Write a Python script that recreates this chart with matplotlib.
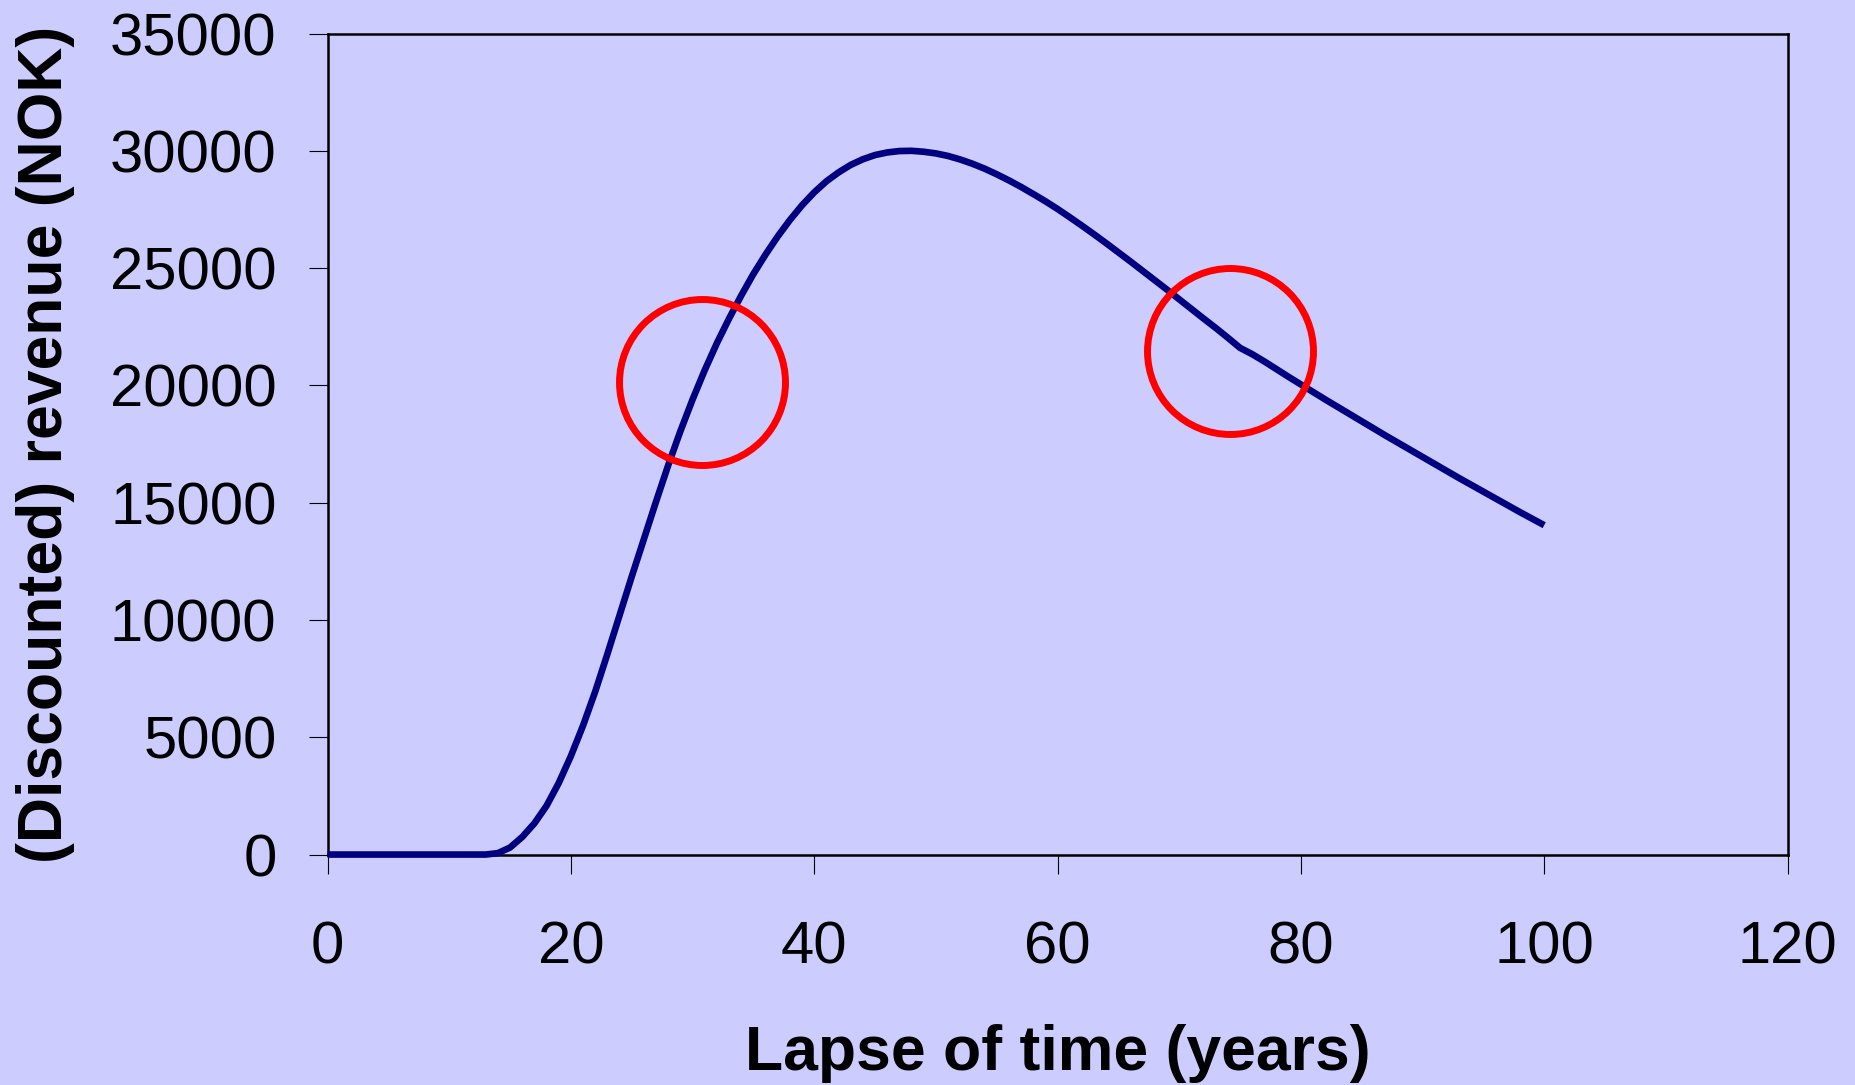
import matplotlib
matplotlib.use('Agg')
import matplotlib.pyplot as plt

# revenue curve, one value per year
years = list(range(0, 101))
revenue = [
    0, 0, 0, 0, 0, 0, 0, 0, 0, 0,
    0, 0, 0, 0, 60, 300, 750, 1330, 2080, 3050,
    4200, 5500, 6950, 8550, 10200, 11850, 13450, 15050, 16600, 18050,
    19400, 20650, 21800, 22850, 23830, 24750, 25580, 26350, 27050, 27680,
    28230, 28700, 29080, 29400, 29640, 29820, 29930, 29990, 30000, 29960,
    29890, 29780, 29630, 29450, 29240, 29000, 28740, 28460, 28160, 27850,
    27520, 27170, 26810, 26440, 26060, 25670, 25280, 24880, 24480, 24080,
    23670, 23260, 22850, 22450, 22030, 21600, 21330, 21020, 20690, 20360,
    20040, 19720, 19400, 19090, 18780, 18470, 18160, 17850, 17550, 17250,
    16950, 16650, 16350, 16050, 15760, 15470, 15180, 14890, 14600, 14320,
    14040,
]

# highlighted spots on the curve
mark_x = [30.8, 74.2]
mark_y = [20150, 21450]

x_ticks = [0, 20, 40, 60, 80, 100, 120]
y_ticks = [0, 5000, 10000, 15000, 20000, 25000, 30000, 35000]

bg = '#CCCCFF'
plt.rcParams['font.family'] = ['Liberation Sans', 'DejaVu Sans']

fig = plt.figure(figsize=(18.56, 10.85), dpi=100, facecolor=bg)
ax = fig.add_axes([0.1765, 0.2124, 0.7866, 0.7567], facecolor=bg)

ax.plot(years, revenue, color='#000080', lw=4.8, solid_capstyle='butt',
        solid_joinstyle='round', clip_on=False, zorder=3)
ax.plot(mark_x, mark_y, 'o', ms=119.5, mfc='none', mec='#FF0000', mew=5,
        zorder=4)

ax.set_xlim(0, 120)
ax.set_ylim(0, 35000)
ax.set_xticks(x_ticks)
ax.set_yticks(y_ticks)

for spine in ax.spines.values():
    spine.set_color('black')
    spine.set_linewidth(1.8)

ax.tick_params(axis='both', direction='out', length=13.7, width=0.8,
               color='black', labelsize=43)
ax.tick_params(axis='y', pad=23)
ax.tick_params(axis='x', pad=34)

ax.set_xlabel('Lapse of time (years)', fontsize=45, fontweight='bold',
              va='baseline')
ax.xaxis.set_label_coords(0.5, -0.2625)
ax.set_ylabel('(Discounted) revenue (NOK)', fontsize=45, fontweight='bold',
              va='center')
ax.yaxis.set_label_coords(-0.1935, 0.5)

fig.savefig('out.png', dpi=100, facecolor=bg)
